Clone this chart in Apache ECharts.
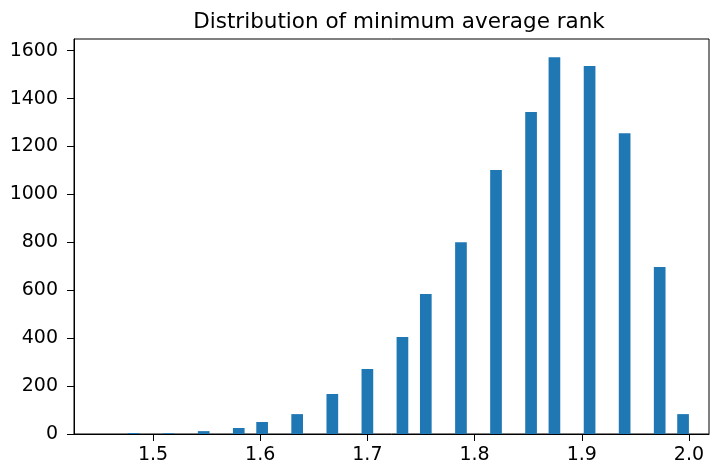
<!DOCTYPE html>
<html>
<head>
<meta charset="utf-8">
<script src="https://cdn.jsdelivr.net/npm/echarts@6/dist/echarts.min.js"></script>
<style>
  html, body { margin: 0; padding: 0; background: #fff; }
  #chart { width: 711px; height: 466px; }
</style>
</head>
<body>
<div id="chart"></div>
<script>
// histogram bins (center of each non-empty bin) and counts
const binCenters = [1.4818, 1.5145, 1.5473, 1.5800, 1.6018, 1.6345, 1.6673, 1.7000, 1.7327,
  1.7545, 1.7873, 1.8200, 1.8527, 1.8745, 1.9073, 1.9400, 1.9727, 1.9945]
const counts = [4, 3, 12, 25, 50, 83, 167, 271, 405, 584, 801, 1102, 1344, 1573, 1536, 1256, 697, 83]
const binWidth = 0.0109
const xTicks = [1.5, 1.6, 1.7, 1.8, 1.9, 2.0]
const yTicks = [0, 200, 400, 600, 800, 1000, 1200, 1400, 1600]

const chart = echarts.init(document.getElementById('chart'), null, { renderer: 'canvas' })

const font = 'DejaVu Sans'

chart.setOption({
  backgroundColor: '#fff',
  animation: false,
  title: {
    text: 'Distribution of minimum average rank',
    left: 394,
    top: 6,
    textAlign: 'center',
    textStyle: { fontFamily: font, fontSize: 21.5, fontWeight: 'normal', color: '#000' },
  },
  grid: {
    left: 74, right: 2, top: 39, bottom: 32,
    show: true, borderColor: '#000', borderWidth: 1, backgroundColor: 'transparent',
  },
  xAxis: {
    type: 'value',
    min: 1.4263,
    max: 2.0187,
    splitLine: { show: false },
    axisLine: { lineStyle: { color: '#000' } },
    axisTick: { length: 7, lineStyle: { color: '#000' }, customValues: xTicks },
    axisLabel: {
      customValues: xTicks,
      formatter: v => v.toFixed(1),
      fontFamily: font, fontSize: 19, color: '#000', margin: 12,
    },
  },
  yAxis: {
    type: 'value',
    min: 0,
    max: 1649,
    splitLine: { show: false },
    axisLine: { show: true, lineStyle: { color: '#000' } },
    axisTick: { show: true, length: 7, lineStyle: { color: '#000' }, customValues: yTicks },
    axisLabel: {
      customValues: yTicks,
      formatter: v => String(v),
      fontFamily: font, fontSize: 19, color: '#000', margin: 16,
    },
  },
  series: [{
    type: 'custom',
    data: binCenters.map((c, i) => [c, counts[i]]),
    encode: { x: 0, y: 1 },
    renderItem: (params, api) => {
      const c = api.value(0)
      const p0 = api.coord([c - binWidth / 2, api.value(1)])
      const p1 = api.coord([c + binWidth / 2, 0])
      return {
        type: 'rect',
        shape: { x: p0[0], y: p0[1], width: p1[0] - p0[0], height: p1[1] - p0[1] },
        style: { fill: '#1f77b4' },
      }
    },
  }],
})
</script>
</body>
</html>
